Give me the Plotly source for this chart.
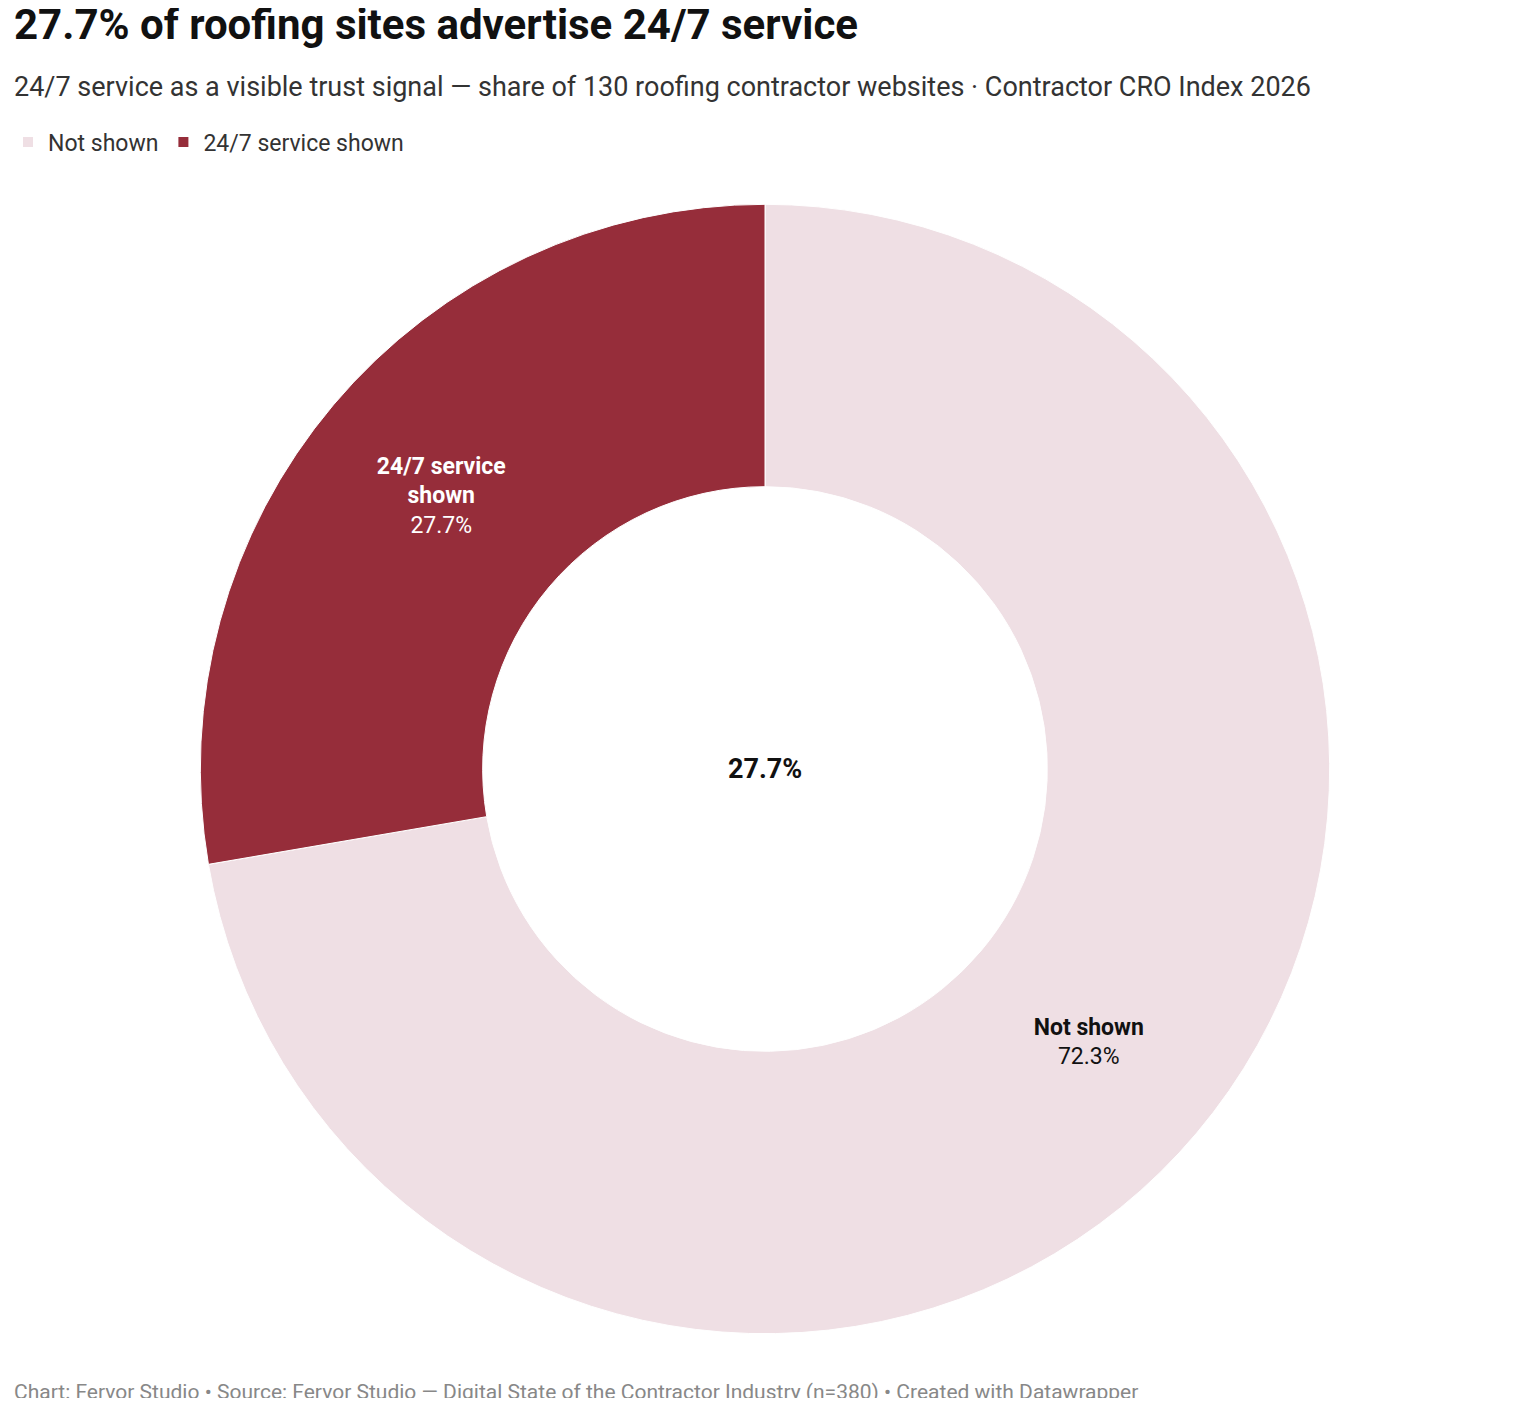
import plotly.graph_objects as go

labels = ["Not shown", "24/7 service shown"]
values = [72.3, 27.7]
slice_text = ["<b>Not shown</b><br>72.3%", "<b>24/7 service<br>shown</b><br>27.7%"]
colors = ["#efdfe4", "#962d3a"]
text_colors = ["#111111", "#ffffff"]

# page offset of the plot inside the browser window
W, H = 1500, 1390
OX, OY = 10, 8


def px(x):
    return (x - OX) / W


def py(y):
    return 1 - (y - OY) / H


fig = go.Figure(go.Pie(
    labels=labels,
    values=values,
    text=slice_text,
    textinfo="text",
    textposition="inside",
    insidetextorientation="horizontal",
    textfont=dict(size=23, color=text_colors, family="Roboto"),
    hole=0.5,
    sort=False,
    direction="clockwise",
    rotation=0,
    marker=dict(colors=colors, line=dict(color="white", width=1)),
    domain=dict(x=[px(190), px(1330)], y=[py(1339), py(199)]),
    hoverinfo="label+percent",
))

fig.update_layout(
    width=W, height=H,
    margin=dict(l=0, r=0, t=0, b=0),
    paper_bgcolor="white",
    font=dict(family="Roboto", color="#222222"),
    showlegend=True,
    legend=dict(orientation="h", x=px(0) - 0.003, y=py(142), xanchor="left", yanchor="middle",
                font=dict(size=23, color="#333333"), itemsizing="constant"),
    annotations=[
        dict(text="<b>27.7% of roofing sites advertise 24/7 service</b>", x=px(0), y=py(25),
             xref="paper", yref="paper", xanchor="left", yanchor="middle", showarrow=False,
             font=dict(size=42, color="#111111")),
        dict(text="24/7 service as a visible trust signal — share of 130 roofing contractor websites · Contractor CRO Index 2026",
             x=px(0), y=py(87), xref="paper", yref="paper", xanchor="left", yanchor="middle",
             showarrow=False, font=dict(size=27, color="#333333")),
        dict(text="<b>27.7%</b>", x=px(760), y=py(769), xref="paper", yref="paper",
             showarrow=False, font=dict(size=27, color="#111111")),
        dict(text="Chart: Fervor Studio • Source: Fervor Studio — Digital State of the Contractor Industry (n=380) • Created with Datawrapper",
             x=px(0), y=py(1392), xref="paper", yref="paper", xanchor="left", yanchor="middle",
             showarrow=False, font=dict(size=21, color="#888888")),
    ],
)

fig.write_html("out.html")
